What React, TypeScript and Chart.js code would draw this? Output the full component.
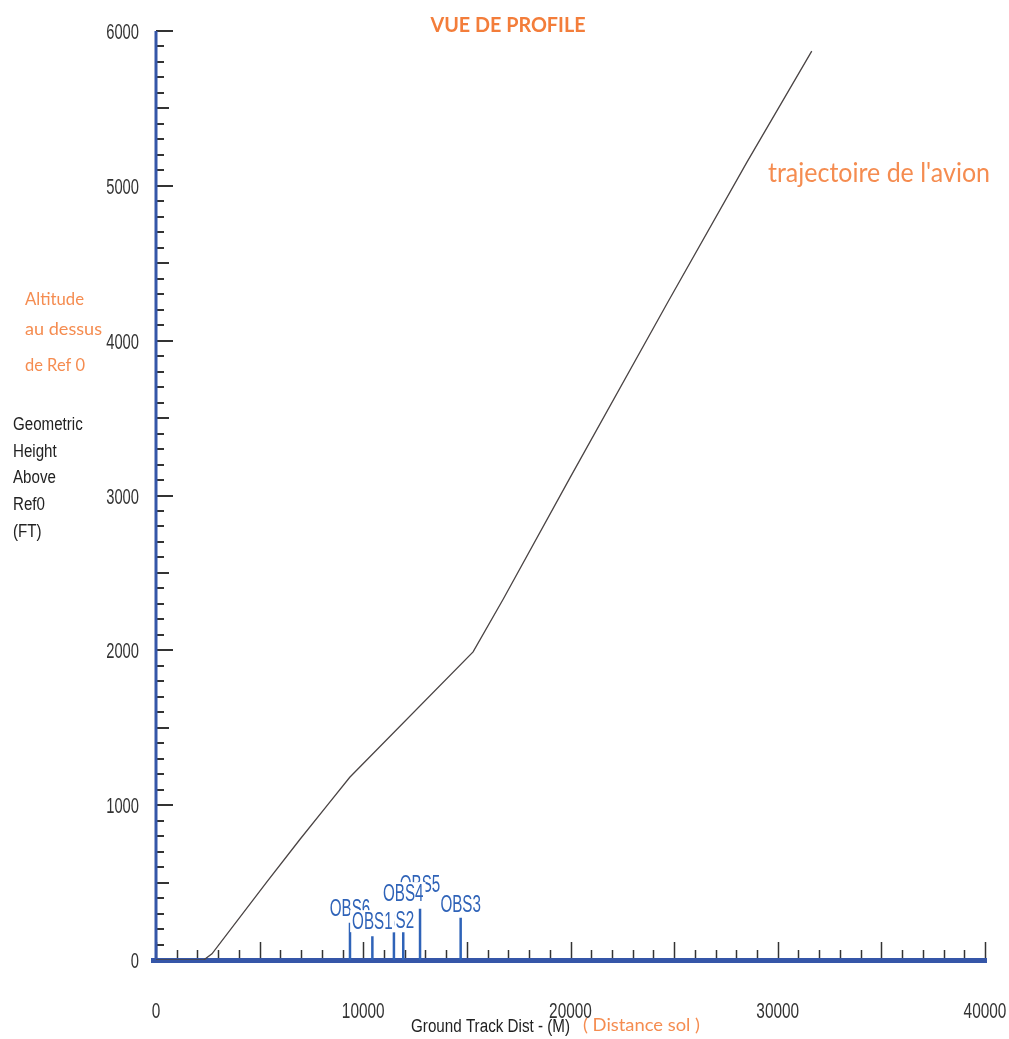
import React, { useEffect, useRef } from "react";
import { Chart, registerables } from "chart.js";

Chart.register(...registerables);

// ---- data ----
const trackDistM = [0, 2300, 2700, 5350, 6950, 8300, 9350, 15300, 16750, 20000, 24700, 28500, 31640];
const heightFt = [0, 0, 40, 505, 780, 1005, 1180, 1990, 2330, 3120, 4250, 5150, 5870];

const obsNames = ["OBS6", "OBS1", "OBS2", "OBS4", "OBS5", "OBS3"];
const obsDistM = [9360, 10440, 11480, 11930, 12740, 14700];
const obsHeightFt = [241, 154, 180, 180, 331, 273];

const xTickValues = [0, 10000, 20000, 30000, 40000];
const xTickLabels = ["0", "10000", "20000", "30000", "40000"];
const yTickValues = [0, 1000, 2000, 3000, 4000, 5000, 6000];
const yTickLabels = ["0", "1000", "2000", "3000", "4000", "5000", "6000"];

const chartTitle = "VUE DE PROFILE";
const xAxisTitle = "Ground Track Dist - (M)";
const xAxisNote = "( Distance sol )";
const yAxisTitle = ["Geometric", "Height", "Above", "Ref0", "(FT)"];
const yAxisNote = ["Altitude", "au dessus", "de Ref 0"];
const lineNote = "trajectoire de l'avion";

const X_MIN = 0, X_MAX = 40000, Y_MIN = 0, Y_MAX = 6000;

// ---- styles ----
const NARROW = '"Liberation Sans", Arial, sans-serif';
const HUMAN = 'Lato, "Open Sans", sans-serif';
const ORANGE = "rgb(245,140,80)";
const ORANGE_T = "rgb(243,125,58)";
const AXIS_BLUE = "#3556a8";
const OBS_BLUE = "#2f63b8";
const TICK = "#333";

function drawText(
  ctx: CanvasRenderingContext2D,
  text: string,
  x: number,
  y: number,
  o: { font: string; color: string; align?: "left" | "center" | "right"; width?: number; scaleX?: number }
) {
  ctx.save();
  ctx.font = o.font;
  ctx.fillStyle = o.color;
  ctx.textBaseline = "alphabetic";
  ctx.textAlign = "left";
  const w = ctx.measureText(text).width;
  const sx = o.width ? o.width / w : o.scaleX ?? 1;
  const dw = w * sx;
  let left = x;
  if (o.align === "center") left = x - dw / 2;
  else if (o.align === "right") left = x - dw;
  ctx.translate(left, y);
  ctx.scale(sx, 1);
  ctx.fillText(text, 0, 0);
  ctx.restore();
  return { left, width: dw };
}

const axesPlugin = {
  id: "profileAxes",
  beforeDatasetsDraw(chart: any) {
    const ctx: CanvasRenderingContext2D = chart.ctx;
    const xs = chart.scales.x;
    const ys = chart.scales.y;
    const x0 = xs.getPixelForValue(X_MIN);
    const y0 = ys.getPixelForValue(Y_MIN);
    ctx.save();
    ctx.strokeStyle = TICK;
    ctx.lineWidth = 1.5;
    for (let v = X_MIN; v <= X_MAX; v += 1000) {
      const px = Math.round(xs.getPixelForValue(v)) + 0.5;
      const len = v % 5000 === 0 ? 18 : 10;
      ctx.beginPath();
      ctx.moveTo(px, y0);
      ctx.lineTo(px, y0 - len);
      ctx.stroke();
    }
    ctx.lineWidth = 2;
    for (let v = Y_MIN; v <= Y_MAX; v += 100) {
      const py = Math.round(ys.getPixelForValue(v));
      const len = v % 1000 === 0 ? 17 : v % 500 === 0 ? 13 : 8;
      ctx.beginPath();
      ctx.moveTo(x0, py);
      ctx.lineTo(x0 + len, py);
      ctx.stroke();
    }
    ctx.strokeStyle = AXIS_BLUE;
    ctx.lineWidth = 3;
    ctx.beginPath();
    ctx.moveTo(x0, ys.getPixelForValue(Y_MAX));
    ctx.lineTo(x0, y0 + 2);
    ctx.stroke();
    ctx.lineWidth = 5;
    ctx.beginPath();
    ctx.moveTo(x0 - 5, y0 + 0.5);
    ctx.lineTo(xs.getPixelForValue(X_MAX) + 2, y0 + 0.5);
    ctx.stroke();
    ctx.restore();
  },
  afterDraw(chart: any) {
    const ctx: CanvasRenderingContext2D = chart.ctx;
    const xs = chart.scales.x;
    const ys = chart.scales.y;
    const x0 = xs.getPixelForValue(X_MIN);

    yTickValues.forEach((v, i) => {
      const py = ys.getPixelForValue(v);
      drawText(ctx, yTickLabels[i], x0 - 17, py + 8, { font: `22px ${NARROW}`, color: "#333", align: "right", scaleX: 0.67 });
    });
    xTickValues.forEach((v, i) => {
      const px = xs.getPixelForValue(v);
      drawText(ctx, xTickLabels[i], px, 1018, { font: `22px ${NARROW}`, color: "#333", align: "center", scaleX: 0.7 });
    });

    const yBase = [430, 457, 483, 510, 537];
    yAxisTitle.forEach((t, i) => drawText(ctx, t, 13, yBase[i], { font: `18px ${NARROW}`, color: "#222", scaleX: 0.84 }));
    drawText(ctx, xAxisTitle, 411, 1032, { font: `18px ${NARROW}`, color: "#222", width: 159 });

    drawText(ctx, chartTitle, 508, 32, { font: `bold 21px ${HUMAN}`, color: ORANGE_T, align: "center", width: 155 });
    drawText(ctx, lineNote, 768, 182, { font: `26px ${HUMAN}`, color: ORANGE, width: 222 });
    const nBase = [305, 335, 371];
    const nWidth = [59, 77, 60];
    yAxisNote.forEach((t, i) => drawText(ctx, t, 25, nBase[i], { font: `18px ${HUMAN}`, color: ORANGE, width: nWidth[i] }));
    drawText(ctx, xAxisNote, 583, 1031, { font: `17px ${HUMAN}`, color: ORANGE, width: 117 });

    // OBS labels with white boxes (lift in px above bar top, and draw order)
    const lift = [6, 6, 3, 30, 16, 5];
    const order = [0, 2, 4, 5, 1, 3];
    const obsFont = `23px ${NARROW}`;
    const obsScale = 0.66;
    order.forEach((i) => {
      const px = xs.getPixelForValue(obsDistM[i]);
      const bottom = ys.getPixelForValue(obsHeightFt[i]) - lift[i];
      ctx.save();
      ctx.font = obsFont;
      const w = ctx.measureText(obsNames[i]).width * obsScale;
      ctx.fillStyle = "#fff";
      ctx.fillRect(px - w / 2 - 2, bottom - 20, w + 4, 22);
      ctx.restore();
      drawText(ctx, obsNames[i], px, bottom - 1, { font: obsFont, color: OBS_BLUE, align: "center", scaleX: obsScale });
    });
  },
};

export default function App() {
  const ref = useRef<HTMLCanvasElement | null>(null);
  useEffect(() => {
    if (!ref.current) return;
    const trajectory = trackDistM.map((x, i) => ({ x, y: heightFt[i] }));
    const obsBars: any[] = [];
    obsDistM.forEach((d, i) => {
      obsBars.push({ x: d, y: 0 }, { x: d, y: obsHeightFt[i] }, { x: d, y: null });
    });
    const chart = new Chart(ref.current, {
      type: "line",
      data: {
        datasets: [
          {
            label: "OBS",
            data: obsBars,
            borderColor: OBS_BLUE,
            borderWidth: 2.5,
            pointRadius: 0,
            spanGaps: false,
            tension: 0,
          },
          {
            label: "trajectoire",
            data: trajectory,
            borderColor: "#4a4444",
            borderWidth: 1.3,
            pointRadius: 0,
            tension: 0,
          },
        ],
      },
      options: {
        responsive: false,
        animation: false,
        devicePixelRatio: 1,
        events: [],
        layout: { padding: { left: 156, right: 24, top: 31, bottom: 79 } },
        plugins: { legend: { display: false }, tooltip: { enabled: false }, title: { display: false } },
        scales: {
          x: { type: "linear", min: X_MIN, max: X_MAX, display: false },
          y: { type: "linear", min: Y_MIN, max: Y_MAX, display: false },
        },
      },
      plugins: [axesPlugin],
    } as any);
    return () => chart.destroy();
  }, []);
  return (
    <div style={{ position: "fixed", left: 0, top: 0, width: 1009, height: 1039, background: "#fff" }}>
      <canvas ref={ref} width={1009} height={1039} style={{ display: "block" }} />
    </div>
  );
}
